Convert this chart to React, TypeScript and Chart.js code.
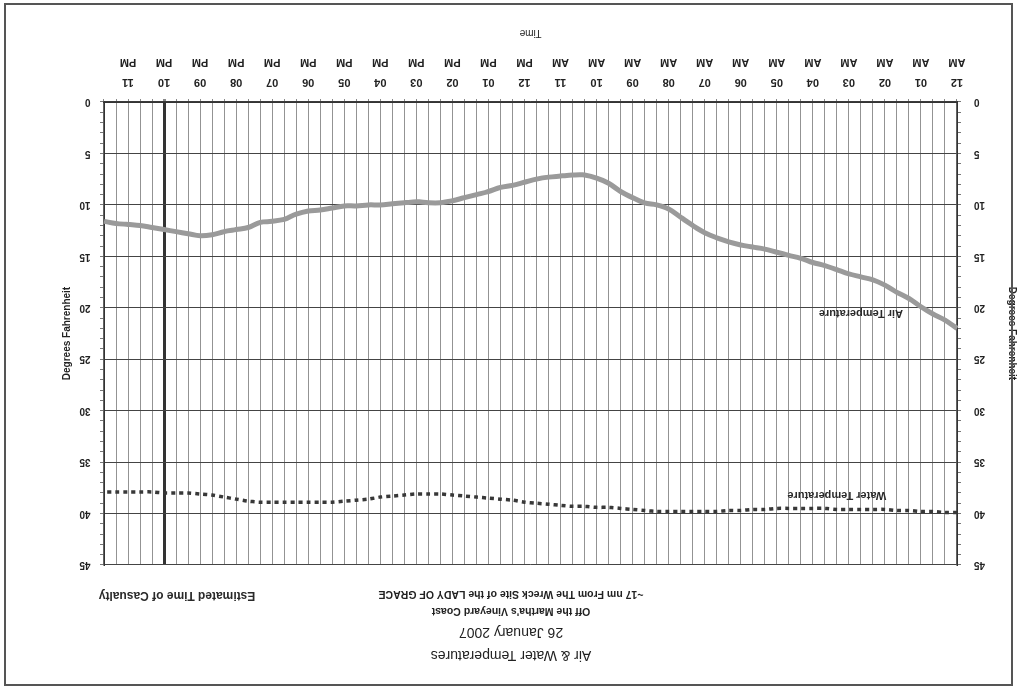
import React, { useEffect, useRef } from "react";
import { Chart, registerables } from "chart.js";

Chart.register(...registerables);

const FONT = '"Liberation Sans", Arial, Helvetica, sans-serif';

const hourTicks = [
  "12 AM", "01 AM", "02 AM", "03 AM", "04 AM", "05 AM", "06 AM", "07 AM", "08 AM", "09 AM", "10 AM", "11 AM",
  "12 PM", "01 PM", "02 PM", "03 PM", "04 PM", "05 PM", "06 PM", "07 PM", "08 PM", "09 PM", "10 PM", "11 PM",
];
const slotMinutes = ["00", "20", "40"];
const timeSlots = hourTicks.flatMap((h) => {
  const [hh, ap] = h.split(" ");
  return slotMinutes.map((m) => `${hh}:${m} ${ap}`);
});

const airTemp = [
  22.0, 21.2, 20.6, 19.9, 19.1, 18.5, 17.8, 17.3, 17.0, 16.7,
  16.3, 15.9, 15.6, 15.2, 14.9, 14.6, 14.3, 14.1, 13.9, 13.6,
  13.2, 12.7, 12.0, 11.2, 10.4, 10.0, 9.8, 9.3, 8.7, 7.9,
  7.4, 7.1, 7.1, 7.2, 7.3, 7.5, 7.8, 8.1, 8.3, 8.7,
  9.0, 9.3, 9.6, 9.8, 9.8, 9.7, 9.8, 9.9, 10.0, 10.0,
  10.1, 10.1, 10.3, 10.5, 10.6, 10.9, 11.4, 11.6, 11.7, 12.2,
  12.4, 12.6, 12.9, 13.0, 12.8, 12.6, 12.4, 12.2, 12.0, 11.9,
  11.8, 11.6,
];

const waterTemp = [
  39.9, 39.9, 39.8, 39.8, 39.7, 39.7, 39.6, 39.6, 39.6, 39.6,
  39.6, 39.5, 39.5, 39.5, 39.5, 39.5, 39.6, 39.6, 39.7, 39.7,
  39.8, 39.8, 39.8, 39.8, 39.8, 39.8, 39.7, 39.6, 39.5, 39.4,
  39.4, 39.3, 39.3, 39.2, 39.1, 39.0, 38.9, 38.7, 38.6, 38.5,
  38.4, 38.3, 38.2, 38.1, 38.1, 38.1, 38.2, 38.3, 38.4, 38.6,
  38.7, 38.8, 38.9, 38.9, 38.9, 38.9, 38.9, 38.9, 38.9, 38.8,
  38.6, 38.4, 38.2, 38.1, 38.0, 38.0, 38.0, 37.9, 37.9, 37.9,
  37.9, 37.9,
];

const titleLines = ["Air & Water Temperatures", "26 January 2007"];
const subtitleLines = ["Off the Martha's Vineyard Coast", "~17 nm From The Wreck Site of the LADY OF GRACE"];
const xTitle = "Time";
const yTitle = "Degrees Fahrenheit";
const casualtyTime = "10:00 PM";
const casualtyText = "Estimated Time of Casualty";
const seriesNotes = [
  { text: "Air Temperature", at: "02:40 AM", value: 20.5 },
  { text: "Water Temperature", at: "03:20 AM", value: 38.2 },
];

const casualtyIndex = timeSlots.indexOf(casualtyTime);

const notesPlugin = {
  id: "notes",
  afterDatasetsDraw(chart: any) {
    const { ctx, chartArea } = chart;
    const x = chart.scales.x;
    const y = chart.scales.y;
    ctx.save();
    ctx.fillStyle = "#2a2a2a";
    ctx.textAlign = "center";
    ctx.textBaseline = "middle";
    ctx.font = `bold 11px ${FONT}`;
    for (const n of seriesNotes) {
      ctx.fillText(n.text, x.getPixelForValue(timeSlots.indexOf(n.at)), y.getPixelForValue(n.value));
    }
    const cx = x.getPixelForValue(casualtyIndex);
    ctx.font = `bold 12px ${FONT}`;
    ctx.fillText(casualtyText, cx - 13, chartArea.top - 30);
    ctx.restore();
  },
};

function yTicksCallback(v: any) {
  return Number(v) % 5 === 0 ? String(v) : "";
}

export default function App() {
  const ref = useRef<HTMLCanvasElement | null>(null);
  useEffect(() => {
    if (!ref.current) return;
    Chart.defaults.font.family = FONT;
    Chart.defaults.color = "#222";
    const chart = new Chart(ref.current, {
      type: "line",
      data: {
        labels: timeSlots,
        datasets: [
          {
            label: "Air Temperature",
            data: airTemp,
            borderColor: "#9a9a9a",
            borderWidth: 5,
            pointRadius: 0,
            tension: 0.35,
            yAxisID: "y",
          },
          {
            label: "Water Temperature",
            data: waterTemp,
            borderColor: "#383838",
            borderWidth: 3.5,
            borderDash: [4, 4],
            pointRadius: 0,
            tension: 0.3,
            yAxisID: "y",
          },
        ],
      },
      options: {
        responsive: false,
        animation: false,
        layout: { padding: { left: 0, right: 4, top: 0, bottom: 0 } },
        plugins: {
          legend: { display: false },
          tooltip: { enabled: false },
          title: {
            display: true,
            text: titleLines,
            color: "#222",
            font: { size: 14, weight: "normal", lineHeight: 1.65 },
            padding: { top: 21.5, bottom: 0 },
          },
          subtitle: {
            display: true,
            text: subtitleLines,
            color: "#222",
            font: { size: 10.5, weight: "bold", lineHeight: 1.62 },
            padding: { top: 1, bottom: 20.3 },
          },
        },
        scales: {
          x: {
            type: "category",
            afterFit: (s: any) => {
              s.height = 102;
            },
            grid: {
              color: (c: any) => (c.index === casualtyIndex ? "#333333" : "#939393"),
              lineWidth: (c: any) => (c.index === casualtyIndex ? 3 : 1),
              tickColor: "#888",
              tickLength: 3,
            },
            border: { display: true, color: "#333", width: 1.5 },
            ticks: {
              autoSkip: false,
              maxRotation: 0,
              minRotation: 0,
              padding: 7,
              color: "#222",
              font: { size: 11, weight: "bold", lineHeight: 1.82 },
              callback: function (this: any, value: any) {
                const lab = String(this.getLabelForValue(value));
                const [hm, ap] = lab.split(" ");
                const [hh, mm] = hm.split(":");
                return mm === "00" ? [hh, ap] : "";
              },
            },
            title: {
              display: true,
              text: xTitle,
              color: "#222",
              font: { size: 10, weight: "normal", lineHeight: 1.2 },
              padding: { top: 0, bottom: 27 },
            },
          },
          y: {
            type: "linear",
            position: "left",
            min: 0,
            max: 45,
            afterFit: (s: any) => {
              s.width = 61;
            },
            grid: {
              color: (c: any) => (c.tick && Number(c.tick.value) % 5 === 0 ? "#444444" : "rgba(0,0,0,0)"),
              tickColor: "#777",
              tickLength: 4,
            },
            border: { display: true, color: "#333", width: 1.5 },
            ticks: {
              stepSize: 1,
              autoSkip: false,
              padding: 13,
              color: "#222",
              font: { size: 10, weight: "bold" },
              callback: yTicksCallback,
            },
            title: {
              display: true,
              text: yTitle,
              color: "#222",
              font: { size: 10, weight: "bold", lineHeight: 1.2 },
              padding: { top: 0, bottom: 0 },
            },
          },
          y2: {
            type: "linear",
            position: "right",
            min: 0,
            max: 45,
            afterFit: (s: any) => {
              s.width = 100;
            },
            grid: {
              drawOnChartArea: false,
              tickColor: "#777",
              tickLength: 4,
            },
            border: { display: true, color: "#333", width: 1.5 },
            ticks: {
              stepSize: 1,
              autoSkip: false,
              padding: 9.5,
              color: "#222",
              font: { size: 10, weight: "bold" },
              callback: yTicksCallback,
            },
            title: {
              display: true,
              text: yTitle,
              color: "#222",
              font: { size: 10, weight: "bold", lineHeight: 1.2 },
              padding: { top: 57, bottom: 0 },
            },
          },
        },
      },
      plugins: [notesPlugin],
    } as any);
    return () => chart.destroy();
  }, []);

  return (
    <div
      style={{
        position: "fixed",
        left: 0,
        top: 0,
        width: 1018,
        height: 688,
        background: "#ffffff",
        transform: "rotate(180deg)",
        transformOrigin: "50% 50%",
      }}
    >
      <canvas ref={ref} width={1018} height={688} style={{ position: "absolute", left: 0, top: 0 }} />
      <div
        style={{
          position: "absolute",
          left: 5,
          top: 2,
          width: 1005,
          height: 679,
          border: "2px solid #555",
          pointerEvents: "none",
        }}
      />
    </div>
  );
}
